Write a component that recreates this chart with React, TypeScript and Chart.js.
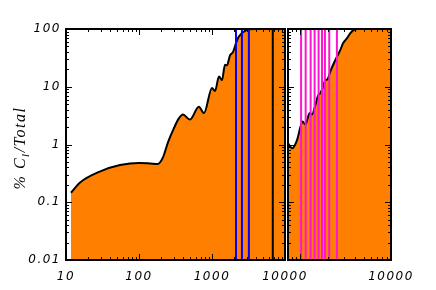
import { useEffect, useRef } from 'react';
import { Chart, registerables } from 'chart.js';
Chart.register(...registerables);

// Left panel curve (multipole vs cumulative %)
const leftX = [11.7, 15.6, 29, 55, 100, 142, 180, 213, 250, 300, 350, 400, 500, 660, 777, 1000, 1099, 1247, 1371, 1507, 1604, 1765, 1940, 2133, 2271, 2575, 2830, 3200, 4000, 10000];
const leftY = [0.146, 0.22, 0.34, 0.44, 0.48, 0.47, 0.46, 0.6, 1.1, 1.9, 2.8, 3.3, 2.7, 4.5, 3.5, 9.5, 8.4, 15, 13, 24, 23.5, 35, 40, 57, 70, 85, 93, 99, 100, 100];

// Right panel curve
const rightX = [730, 811, 920, 1000, 1060, 1135, 1265, 1345, 1462, 1566, 1660, 1758, 1884, 1996, 2137, 2325, 2530, 2753, 2947, 3260, 3542, 3853, 4337, 10000];
const rightY = [1.05, 0.86, 1.2, 2.0, 2.5, 2.2, 3.5, 3.3, 4.8, 7.0, 7.8, 9.5, 13, 13.5, 18.3, 25, 33, 43, 56, 69, 84, 96, 100, 100];

// Vertical markers
const blueLines = [2130, 2570, 3200];
const blackLines = [6800];
const magentaLines = [1018, 1143, 1298, 1435, 1589, 1731, 1866, 2083, 2530];

// Axes
const yTicks = [0.01, 0.1, 1, 10, 100];
const yTickLabels = ['0.01', '0.1', '1', '10', '100'];
const leftXTicks = [10, 100, 1000, 10000];
const rightXTicks = [10000];
const yTitleA = '% C';
const yTitleSub = 'l';
const yTitleB = '/Total';

const ORANGE = '#FF8000';
const MAGENTA = '#FF14D2';
const BLUE = '#0000FF';

const tickFont = { family: 'DejaVu Sans', style: 'italic' as const, size: 12 };

const frameTicks = {
  id: 'frameTicks',
  beforeDraw(chart: any) {
    try { chart.ctx.letterSpacing = '1.5px'; } catch (e) {}
  },
  afterDraw(chart: any) {
    const { ctx, chartArea: a } = chart;
    const xs = chart.scales.x;
    const ys = chart.scales.y;
    ctx.save();
    ctx.strokeStyle = '#000';
    ctx.lineWidth = 1;
    const drawLog = (scale: any, horiz: boolean) => {
      const mn = scale.min, mx = scale.max;
      for (let e = Math.floor(Math.log10(mn)); e <= Math.ceil(Math.log10(mx)); e++) {
        for (let n = 1; n <= 9; n++) {
          const v = n * Math.pow(10, e);
          if (v < mn * 0.999 || v > mx * 1.001) continue;
          const p = Math.round(scale.getPixelForValue(v)) + 0.5;
          const len = n === 1 ? 6 : 3;
          ctx.beginPath();
          if (horiz) {
            ctx.moveTo(p, a.bottom); ctx.lineTo(p, a.bottom - len);
            ctx.moveTo(p, a.top); ctx.lineTo(p, a.top + len);
          } else {
            ctx.moveTo(a.left, p); ctx.lineTo(a.left + len, p);
            ctx.moveTo(a.right, p); ctx.lineTo(a.right - len, p);
          }
          ctx.stroke();
        }
      }
    };
    drawLog(xs, true);
    drawLog(ys, false);
    ctx.lineWidth = 2;
    ctx.strokeRect(a.left, a.top, a.right - a.left, a.bottom - a.top);
    ctx.restore();
  },
};

const titlePlugin = {
  id: 'yTitle',
  afterDraw(chart: any) {
    const ctx = chart.ctx;
    ctx.save();
    try { ctx.letterSpacing = '1.5px'; } catch (e) {}
    ctx.translate(25, 148);
    ctx.rotate(-Math.PI / 2);
    ctx.fillStyle = '#000';
    ctx.textBaseline = 'alphabetic';
    ctx.textAlign = 'left';
    const big = 'italic 16px "Liberation Serif"';
    const small = 'italic 11px "Liberation Serif"';
    ctx.font = big;
    const wA = ctx.measureText(yTitleA).width;
    const wB = ctx.measureText(yTitleB).width;
    ctx.font = small;
    const wS = ctx.measureText(yTitleSub).width;
    let x = -(wA + wS + wB) / 2;
    ctx.font = big;
    ctx.fillText(yTitleA, x, 0);
    x += wA;
    ctx.font = small;
    ctx.fillText(yTitleSub, x, 4);
    x += wS;
    ctx.font = big;
    ctx.fillText(yTitleB, x, 0);
    ctx.restore();
  },
};

function vline(v: number, color: string) {
  return {
    data: [{ x: v, y: 0.01 }, { x: v, y: 100 }],
    borderColor: color,
    borderWidth: 2,
    pointRadius: 0,
    fill: false,
    tension: 0,
    order: 1,
  };
}

function curve(xs: number[], ysv: number[]) {
  return {
    data: xs.map((x, i) => ({ x, y: ysv[i] })),
    borderColor: '#000',
    borderWidth: 2,
    backgroundColor: ORANGE,
    fill: 'start',
    pointRadius: 0,
    cubicInterpolationMode: 'monotone' as const,
    order: 2,
  };
}

function makeConfig(datasets: any[], xMin: number, xMax: number, xTicks: number[], showY: boolean, padding: any, plugins: any[]) {
  return {
    type: 'line' as const,
    data: { datasets },
    plugins,
    options: {
      animation: false as const,
      responsive: false,
      devicePixelRatio: 1,
      layout: { padding },
      plugins: { legend: { display: false }, tooltip: { enabled: false } },
      scales: {
        x: {
          type: 'logarithmic' as const,
          min: xMin,
          max: xMax,
          grid: { display: false, drawTicks: false },
          border: { display: false },
          afterBuildTicks: (s: any) => { s.ticks = xTicks.map((v) => ({ value: v })); },
          afterFit: (s: any) => { s.height = 30; },
          ticks: {
            autoSkip: false,
            maxRotation: 0,
            padding: 10,
            color: '#000',
            font: tickFont,
            callback: (v: any) => String(v),
          },
        },
        y: {
          type: 'logarithmic' as const,
          display: showY,
          min: 0.01,
          max: 100,
          grid: { display: false, drawTicks: false },
          border: { display: false },
          afterBuildTicks: (s: any) => { s.ticks = yTicks.map((v) => ({ value: v })); },
          afterFit: (s: any) => { s.width = showY ? 66 : 0; },
          ticks: {
            autoSkip: false,
            padding: 5,
            color: '#000',
            font: tickFont,
            callback: (v: any) => {
              const i = yTicks.findIndex((t) => Math.abs(t - v) / t < 1e-6);
              return i >= 0 ? yTickLabels[i] : '';
            },
          },
        },
      },
    },
  };
}

export default function App() {
  const leftRef = useRef<HTMLCanvasElement>(null);
  const rightRef = useRef<HTMLCanvasElement>(null);

  useEffect(() => {
    document.body.style.margin = '0';
    const leftSets = [
      curve(leftX, leftY),
      ...blueLines.map((v) => vline(v, BLUE)),
      ...blackLines.map((v) => vline(v, '#000')),
    ];
    const rightSets = [
      curve(rightX, rightY),
      ...magentaLines.map((v) => vline(v, MAGENTA)),
    ];
    const c1 = new Chart(leftRef.current as HTMLCanvasElement, makeConfig(leftSets, 10, 10000, leftXTicks, true, { top: 29, right: 35, left: 0, bottom: 0 }, [frameTicks, titlePlugin]) as any);
    const c2 = new Chart(rightRef.current as HTMLCanvasElement, makeConfig(rightSets, 730, 10000, rightXTicks, false, { top: 29, right: 45, left: 8, bottom: 0 }, [frameTicks]) as any);
    return () => { c1.destroy(); c2.destroy(); };
  }, []);

  return (
    <div style={{ position: 'relative', width: 436, height: 290, background: '#fff' }}>
      <canvas ref={leftRef} width={320} height={290} style={{ position: 'absolute', left: 0, top: 0, width: 320, height: 290 }} />
      <canvas ref={rightRef} width={156} height={290} style={{ position: 'absolute', left: 280, top: 0, width: 156, height: 290 }} />
    </div>
  );
}
